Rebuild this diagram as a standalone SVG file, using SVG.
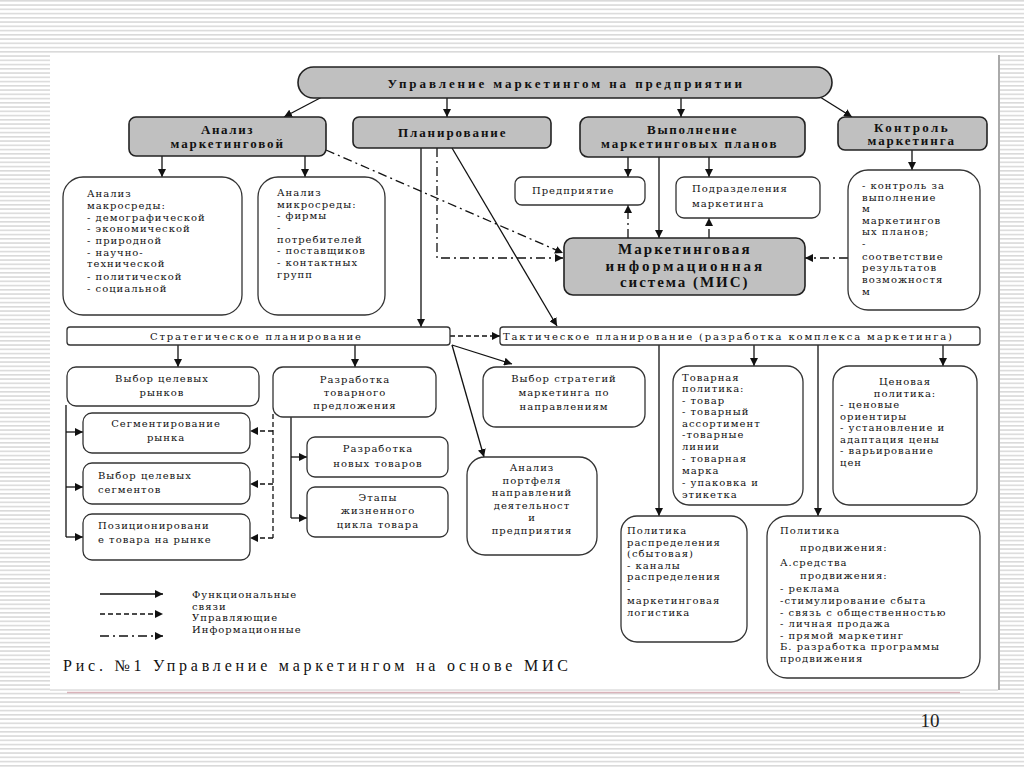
<svg xmlns="http://www.w3.org/2000/svg" width="1024" height="767" viewBox="0 0 1024 767">
<defs>
<pattern id="stripes" x="0" y="0" width="8" height="4.25" patternUnits="userSpaceOnUse">
<rect x="0" y="0" width="8" height="1.6" fill="#dadada"/>
</pattern>
<marker id="ah" viewBox="0 0 10 10" refX="10" refY="5" markerWidth="8" markerHeight="8" orient="auto" markerUnits="userSpaceOnUse">
<path d="M0,0 L10,5 L0,10 Z" fill="#111"/>
</marker>
<style>
.g{fill:#c0c0c0;stroke:#222;stroke-width:1.6}
.w{fill:#fff;stroke:#333;stroke-width:1.3}
.c{fill:none;stroke:#111;stroke-width:1.3}
.sol{marker-end:url(#ah)}
.dash{stroke-dasharray:5,3}
.dd{stroke-dasharray:9,4,2,4}
text{font-family:"Liberation Serif","Times New Roman",serif;fill:#111}
.t{font-family:"DejaVu Serif","Liberation Serif",serif;font-size:10px;letter-spacing:1px}
.b{font-size:13px;font-weight:bold;letter-spacing:0.5px}
.m{text-anchor:middle}
</style>
</defs>
<rect x="0" y="0" width="1024" height="767" fill="#fff"/>
<rect x="0" y="0" width="1024" height="767" fill="url(#stripes)"/>
<rect x="50" y="55" width="948" height="635" fill="#fff"/>
<line x1="999" y1="55" x2="999" y2="690" stroke="#aaa" stroke-width="2"/>
<line x1="50" y1="690" x2="998" y2="690" stroke="#ccc" stroke-width="1"/>
<line x1="67" y1="692.5" x2="960" y2="692.5" stroke="#d9b3ba" stroke-width="1.5"/>

<g id="connectors">
<line class="c sol" x1="322" y1="97" x2="284" y2="117"/>
<line class="c sol" x1="447" y1="98" x2="447" y2="117"/>
<line class="c sol" x1="681" y1="98" x2="681" y2="117"/>
<line class="c sol" x1="820" y1="97" x2="852" y2="117"/>
<line class="c sol" x1="162" y1="156" x2="162" y2="177"/>
<line class="c sol" x1="305" y1="156" x2="305" y2="177"/>
<line class="c sol" x1="628" y1="157" x2="628" y2="177"/>
<line class="c sol" x1="659" y1="157" x2="659" y2="238"/>
<line class="c sol" x1="709" y1="157" x2="709" y2="177"/>
<line class="c sol dd" x1="628" y1="238" x2="628" y2="205"/>
<line class="c sol dd" x1="709" y1="238" x2="709" y2="218"/>
<line class="c sol dd" x1="848" y1="258" x2="805" y2="258"/>
<line class="c sol" x1="912" y1="150" x2="912" y2="170"/>
<line class="c sol dd" x1="326" y1="150" x2="563" y2="253"/>
<path class="c sol dd" d="M437,148 V258 H563"/>
<line class="c sol" x1="421" y1="148" x2="421" y2="327"/>
<line class="c sol" x1="452" y1="148" x2="557" y2="326"/>
<line class="c sol dash" x1="450" y1="336" x2="500" y2="336"/>
<line class="c sol" x1="178" y1="345" x2="178" y2="367"/>
<line class="c sol" x1="355" y1="345" x2="355" y2="367"/>
<line class="c sol" x1="452" y1="345" x2="512" y2="364"/>
<line class="c sol" x1="452" y1="345" x2="484" y2="457"/>
<path class="c" d="M66,405 V537"/>
<line class="c sol" x1="66" y1="432" x2="83" y2="432"/>
<line class="c sol" x1="66" y1="487" x2="83" y2="487"/>
<line class="c sol" x1="66" y1="537" x2="83" y2="537"/>
<path class="c dash" d="M273,414 V538"/>
<line class="c sol dash" x1="273" y1="431" x2="250" y2="431"/>
<line class="c sol dash" x1="273" y1="484" x2="250" y2="484"/>
<line class="c sol dash" x1="273" y1="538" x2="250" y2="538"/>
<path class="c" d="M291,417 V518"/>
<line class="c sol" x1="291" y1="457" x2="307" y2="457"/>
<line class="c sol" x1="291" y1="518" x2="307" y2="518"/>
<line class="c sol" x1="659" y1="345" x2="659" y2="516"/>
<line class="c sol" x1="754" y1="345" x2="754" y2="366"/>
<line class="c sol" x1="818" y1="345" x2="818" y2="516"/>
<line class="c sol" x1="943" y1="345" x2="943" y2="366"/>
<line class="c sol" x1="100" y1="594" x2="163" y2="594"/>
<line class="c sol dash" x1="100" y1="614" x2="163" y2="614"/>
<line class="c sol dd" x1="100" y1="636" x2="163" y2="636"/>
</g>

<g id="top">
<rect class="g" x="298" y="67" width="534" height="31" rx="15.5"/>
<text class="b m" x="565" y="88" textLength="355" lengthAdjust="spacing">Управление маркетингом на предприятии</text>
</g>
<g id="analysis">
<rect class="g" x="129" y="117" width="197" height="39" rx="7"/>
<text class="b m" x="227" y="134" textLength="52" lengthAdjust="spacing">Анализ</text>
<text class="b m" x="227" y="148" textLength="113" lengthAdjust="spacing">маркетинговой</text>
</g>
<g id="planning">
<rect class="g" x="353" y="117" width="198" height="31" rx="6"/>
<text class="b m" x="452" y="137" textLength="108" lengthAdjust="spacing">Планирование</text>
</g>
<g id="execution">
<rect class="g" x="580" y="117" width="225" height="40" rx="8"/>
<text class="b m" x="692" y="134" textLength="90" lengthAdjust="spacing">Выполнение</text>
<text class="b m" x="689" y="148" textLength="176" lengthAdjust="spacing">маркетинговых планов</text>
</g>
<g id="control">
<rect class="g" x="838" y="117" width="149" height="33" rx="7"/>
<text class="b m" x="911" y="132" textLength="74" lengthAdjust="spacing">Контроль</text>
<text class="b m" x="911" y="145" textLength="87" lengthAdjust="spacing">маркетинга</text>
</g>

<g id="macro">
<rect class="w" x="63" y="177" width="179" height="138" rx="20"/>
<text class="t" x="87" y="197">Анализ</text>
<text class="t" x="87" y="208.5">макросреды:</text>
<text class="t" x="87" y="220.5">- демографической</text>
<text class="t" x="87" y="232">- экономической</text>
<text class="t" x="87" y="244">- природной</text>
<text class="t" x="87" y="255.5">- научно-</text>
<text class="t" x="87" y="267">технической</text>
<text class="t" x="87" y="279.5">- политической</text>
<text class="t" x="87" y="291.5">- социальной</text>
</g>
<g id="micro">
<rect class="w" x="258" y="177" width="127" height="138" rx="20"/>
<text class="t" x="277" y="196">Анализ</text>
<text class="t" x="277" y="207.5">микросреды:</text>
<text class="t" x="277" y="219">- фирмы</text>
<text class="t" x="277" y="230.5">-</text>
<text class="t" x="277" y="242.5">потребителей</text>
<text class="t" x="277" y="254">- поставщиков</text>
<text class="t" x="277" y="265.5">- контактных</text>
<text class="t" x="277" y="278">групп</text>
</g>
<g id="enterprise">
<rect class="w" x="515" y="177" width="130" height="28" rx="7"/>
<text class="t" x="532" y="194">Предприятие</text>
</g>
<g id="departments">
<rect class="w" x="676" y="177" width="144" height="41" rx="8"/>
<text class="t" x="692" y="192">Подразделения</text>
<text class="t" x="692" y="207">маркетинга</text>
</g>
<g id="mis">
<rect class="g" x="564" y="238" width="241" height="57" rx="9"/>
<text class="b m" x="684" y="254" style="font-size:15px" textLength="132" lengthAdjust="spacing">Маркетинговая</text>
<text class="b m" x="684" y="271" style="font-size:15px" textLength="157" lengthAdjust="spacing">информационная</text>
<text class="b m" x="684" y="287" style="font-size:15px" textLength="128" lengthAdjust="spacing">система (МИС)</text>
</g>
<g id="control-box">
<rect class="w" x="848" y="170" width="132" height="140" rx="20"/>
<text class="t" x="862" y="189">- контроль за</text>
<text class="t" x="862" y="200.5">выполнение</text>
<text class="t" x="862" y="212">м</text>
<text class="t" x="862" y="223.5">маркетингов</text>
<text class="t" x="862" y="235">ых планов;</text>
<text class="t" x="862" y="247">-</text>
<text class="t" x="862" y="259.5">соответствие</text>
<text class="t" x="862" y="271">результатов</text>
<text class="t" x="862" y="282.5">возможностя</text>
<text class="t" x="862" y="294.5">м</text>
</g>

<g id="strategic">
<rect class="w" x="67" y="327" width="383" height="18" rx="3"/>
<text class="t m" x="256" y="340" textLength="212" lengthAdjust="spacing">Стратегическое планирование</text>
</g>
<g id="tactical">
<rect class="w" x="500" y="327" width="480" height="18" rx="3"/>
<text class="t m" x="728" y="340" textLength="450" lengthAdjust="spacing">Тактическое планирование (разработка комплекса маркетинга)</text>
</g>

<g id="target-markets">
<rect class="w" x="67" y="367" width="192" height="39" rx="9"/>
<text class="t m" x="162" y="382">Выбор целевых</text>
<text class="t m" x="162" y="396">рынков</text>
</g>
<g id="segmentation">
<rect class="w" x="83" y="413" width="167" height="40" rx="9"/>
<text class="t m" x="166" y="427">Сегментирование</text>
<text class="t m" x="166" y="441">рынка</text>
</g>
<g id="target-segments">
<rect class="w" x="83" y="463" width="167" height="41" rx="9"/>
<text class="t" x="98" y="479">Выбор целевых</text>
<text class="t" x="98" y="493">сегментов</text>
</g>
<g id="positioning">
<rect class="w" x="83" y="514" width="167" height="46" rx="9"/>
<text class="t" x="98" y="529">Позиционировани</text>
<text class="t" x="98" y="543">е товара на рынке</text>
</g>
<g id="product-offer">
<rect class="w" x="273" y="367" width="163" height="50" rx="10"/>
<text class="t m" x="355" y="383">Разработка</text>
<text class="t m" x="355" y="396">товарного</text>
<text class="t m" x="355" y="409">предложения</text>
</g>
<g id="new-products">
<rect class="w" x="307" y="437" width="141" height="40" rx="8"/>
<text class="t m" x="378" y="452">Разработка</text>
<text class="t m" x="378" y="467">новых товаров</text>
</g>
<g id="life-cycle">
<rect class="w" x="307" y="487" width="141" height="50" rx="8"/>
<text class="t m" x="378" y="501">Этапы</text>
<text class="t m" x="378" y="514">жизненного</text>
<text class="t m" x="378" y="528">цикла товара</text>
</g>
<g id="strategies">
<rect class="w" x="483" y="367" width="162" height="60" rx="13"/>
<text class="t m" x="564" y="382">Выбор стратегий</text>
<text class="t m" x="564" y="396">маркетинга по</text>
<text class="t m" x="564" y="410">направлениям</text>
</g>
<g id="portfolio">
<rect class="w" x="467" y="457" width="130" height="98" rx="18"/>
<text class="t m" x="532" y="471">Анализ</text>
<text class="t m" x="532" y="483.5">портфеля</text>
<text class="t m" x="532" y="496">направлений</text>
<text class="t m" x="532" y="508.5">деятельност</text>
<text class="t m" x="532" y="521">и</text>
<text class="t m" x="532" y="533.5">предприятия</text>
</g>
<g id="product-policy">
<rect class="w" x="673" y="366" width="130" height="139" rx="16"/>
<text class="t" x="682" y="380.5">Товарная</text>
<text class="t" x="682" y="392">политика:</text>
<text class="t" x="682" y="403.5">- товар</text>
<text class="t" x="682" y="415">- товарный</text>
<text class="t" x="682" y="426.5">ассортимент</text>
<text class="t" x="682" y="438">-товарные</text>
<text class="t" x="682" y="450">линии</text>
<text class="t" x="682" y="462">- товарная</text>
<text class="t" x="682" y="474">марка</text>
<text class="t" x="682" y="486">- упаковка и</text>
<text class="t" x="682" y="498">этикетка</text>
</g>
<g id="price-policy">
<rect class="w" x="833" y="366" width="144" height="139" rx="16"/>
<text class="t m" x="905" y="385">Ценовая</text>
<text class="t m" x="905" y="396.5">политика:</text>
<text class="t" x="840" y="408">- ценовые</text>
<text class="t" x="840" y="419.5">ориентиры</text>
<text class="t" x="840" y="431">- установление и</text>
<text class="t" x="840" y="442.5">адаптация цены</text>
<text class="t" x="840" y="454">- варьирование</text>
<text class="t" x="840" y="465.5">цен</text>
</g>
<g id="distribution">
<rect class="w" x="621" y="516" width="126" height="126" rx="16"/>
<text class="t" x="627" y="534">Политика</text>
<text class="t" x="627" y="545.5">распределения</text>
<text class="t" x="627" y="557">(сбытовая)</text>
<text class="t" x="627" y="568.5">- каналы</text>
<text class="t" x="627" y="580">распределения</text>
<text class="t" x="627" y="591.5">-</text>
<text class="t" x="627" y="603.5">маркетинговая</text>
<text class="t" x="627" y="616">логистика</text>
</g>
<g id="promotion">
<rect class="w" x="767" y="516" width="213" height="162" rx="20"/>
<text class="t" x="780" y="534">Политика</text>
<text class="t" x="800" y="550.5">продвижения:</text>
<text class="t" x="780" y="565.5">А.средства</text>
<text class="t" x="800" y="578.5">продвижения:</text>
<text class="t" x="780" y="591.5">- реклама</text>
<text class="t" x="780" y="603.5">-стимулирование сбыта</text>
<text class="t" x="780" y="615.5">- связь с общественностью</text>
<text class="t" x="780" y="627">- личная продажа</text>
<text class="t" x="780" y="638.5">- прямой маркетинг</text>
<text class="t" x="780" y="650">Б. разработка программы</text>
<text class="t" x="780" y="661.5">продвижения</text>
</g>

<g id="legend">
<text class="t" x="192" y="598">Функциональные</text>
<text class="t" x="192" y="609.5">связи</text>
<text class="t" x="192" y="621">Управляющие</text>
<text class="t" x="192" y="633">Информационные</text>
</g>
<text x="63" y="671" style="font-size:16px" textLength="505" lengthAdjust="spacing">Рис. №1 Управление маркетингом на основе МИС</text>
<text x="930" y="727" style="font-size:19px;fill:#222" text-anchor="middle">10</text>
</svg>
